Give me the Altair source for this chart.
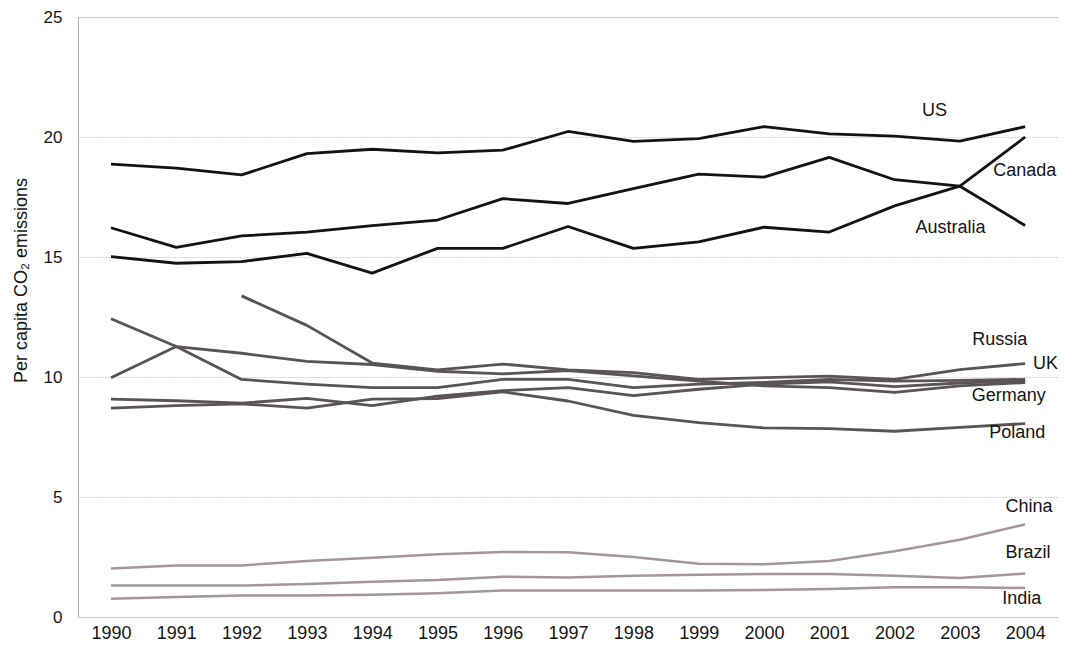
import altair as alt
import pandas as pd

years = list(range(1990, 2005))

# Heavy (black) series
us        = [18.87, 18.70, 18.42, 19.31, 19.49, 19.34, 19.45, 20.23, 19.82, 19.93, 20.43, 20.13, 20.04, 19.83, 20.43]
canada    = [16.22, 15.40, 15.88, 16.04, 16.31, 16.54, 17.43, 17.23, 17.85, 18.45, 18.33, 19.15, 18.22, 17.95, 16.31]
australia = [15.02, 14.74, 14.81, 15.15, 14.33, 15.36, 15.36, 16.27, 15.36, 15.63, 16.24, 16.04, 17.13, 17.95, 20.00]

# Middle (grey) series
russia  = [None, None, 13.38, 12.15, 10.58, 10.30, 10.54, 10.30, 10.18, 9.90, 9.97, 10.04, 9.90, 10.31, 10.56]
germany = [12.43, 11.27, 9.90, 9.70, 9.56, 9.56, 9.90, 9.90, 9.56, 9.70, 9.77, 9.90, 9.83, 9.86, 9.90]
uk      = [9.97, 11.27, 10.99, 10.65, 10.52, 10.24, 10.13, 10.27, 10.05, 9.83, 9.63, 9.56, 9.36, 9.63, 9.77]
other   = [9.08, 9.01, 8.91, 9.11, 8.81, 9.20, 9.43, 9.56, 9.22, 9.49, 9.70, 9.80, 9.60, 9.75, 9.85]
poland  = [8.70, 8.81, 8.88, 8.70, 9.08, 9.10, 9.38, 9.00, 8.40, 8.10, 7.88, 7.85, 7.74, 7.90, 8.06]

# Light series
china  = [2.02, 2.15, 2.15, 2.33, 2.47, 2.61, 2.71, 2.70, 2.50, 2.22, 2.20, 2.33, 2.74, 3.22, 3.86]
brazil = [1.31, 1.31, 1.31, 1.38, 1.47, 1.54, 1.68, 1.65, 1.72, 1.76, 1.79, 1.79, 1.72, 1.62, 1.81]
india  = [0.76, 0.83, 0.90, 0.90, 0.93, 0.99, 1.10, 1.10, 1.10, 1.10, 1.13, 1.17, 1.24, 1.24, 1.21]

series = [
    ("US", us, "heavy"), ("Canada", canada, "heavy"), ("Australia", australia, "heavy"),
    ("Russia", russia, "mid"), ("Germany", germany, "mid"), ("UK", uk, "mid"),
    ("Other", other, "mid"), ("Poland", poland, "mid"),
    ("China", china, "light"), ("Brazil", brazil, "light"), ("India", india, "light"),
]

# Label texts and their anchor (year, value)
label_names  = ["US", "Canada", "Australia", "Russia", "UK", "Germany", "Poland", "China", "Brazil", "India"]
label_years  = [2002.42, 2003.51, 2002.32, 2003.19, 2004.12, 2003.18, 2003.45, 2003.70, 2003.70, 2003.65]
label_values = [21.08, 18.59, 16.22, 11.54, 10.56, 9.22, 7.68, 4.58, 2.67, 0.76]

y_ticks = [0, 5, 10, 15, 20, 25]

rows = []
for name, vals, grp in series:
    for yr, v in zip(years, vals):
        if v is not None:
            rows.append({"year": yr, "value": v, "series": name, "group": grp})
df = pd.DataFrame(rows)
labels = pd.DataFrame({"name": label_names, "year": label_years, "value": label_values})

FONT = "Liberation Sans"
x_scale = alt.Scale(domain=[1989.495, 2004.518], nice=False, zero=False)
y_scale = alt.Scale(domain=[0, 25], nice=False)

x_axis = alt.Axis(values=years, format="d", grid=False, domain=False, ticks=False,
                  labelPadding=7, labelFontSize=18, labelFont=FONT, labelColor="#151515",
                  title=None)
y_axis = alt.Axis(values=y_ticks, grid=True, gridDash=[1, 2], gridColor="#a8a8a8", gridWidth=1,
                  domain=True, domainColor="#b0b0b0", domainWidth=1, ticks=False,
                  labelPadding=16, labelFontSize=17, labelFont=FONT, labelColor="#151515",
                  title="Per capita CO₂ emissions", titleFont=FONT, titleFontSize=18,
                  titleFontWeight="normal", titleColor="#151515",
                  titleX=-57, titleY=263, titleAngle=270, titleBaseline="middle", titleAlign="center")

base = alt.Chart(df)

def lines(group, color, width):
    return base.transform_filter(alt.datum.group == group).mark_line(
        color=color, strokeWidth=width, strokeJoin="round"
    ).encode(
        x=alt.X("year:Q", scale=x_scale, axis=x_axis),
        y=alt.Y("value:Q", scale=y_scale, axis=y_axis),
        detail="series:N",
    )

light = lines("light", "#a3979a", 2.5)
mid = lines("mid", "#5a5455", 2.8)
heavy = lines("heavy", "#141212", 2.8)

text = alt.Chart(labels).mark_text(
    align="left", baseline="middle", fontSize=18, font=FONT, color="#151515"
).encode(
    x=alt.X("year:Q", scale=x_scale),
    y=alt.Y("value:Q", scale=y_scale),
    text="name:N",
)

chart = alt.layer(light, mid, heavy, text).properties(
    width=981, height=600,
    autosize=alt.AutoSizeParams(type="none"),
    padding={"left": 70, "top": 9, "right": 0, "bottom": 28},
).configure_view(stroke=None).configure(background="white")

chart.save("out.html", embed_options={"renderer": "svg", "actions": False})
